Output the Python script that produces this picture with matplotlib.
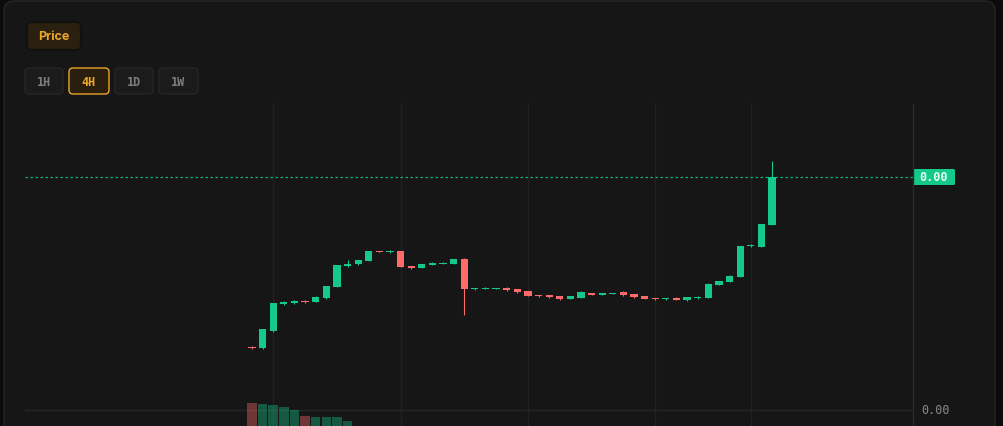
import numpy as np
import matplotlib
matplotlib.use('Agg')
import matplotlib.pyplot as plt
from matplotlib.patches import FancyBboxPatch

# 4H candles, price in units of 1e-9
opens = [83, 82, 99, 126, 127, 129, 128, 132, 143, 164,
         166, 169, 179, 178, 179, 164, 162, 165, 166, 166,
         171, 141, 141, 141, 142, 141, 139, 135, 135, 134,
         131, 132, 137, 135, 136, 138, 136, 134, 132, 131,
         132, 130, 132, 132, 145, 148, 153, 184, 183, 205]
highs = [84, 101, 127, 129, 130, 130, 134, 144, 165, 170,
         170, 179, 179, 180, 179, 164, 166, 168, 168, 171,
         172, 142, 143, 142, 143, 141, 139, 135, 135, 134,
         134, 139, 137, 137, 137, 139, 136, 134, 132, 132,
         133, 133, 134, 147, 149, 155, 184, 186, 206, 269]
lows = [81, 81, 98, 125, 126, 127, 128, 131, 143, 163,
        165, 169, 178, 177, 163, 161, 162, 165, 166, 166,
        115, 140, 141, 141, 139, 137, 134, 133, 132, 130,
        131, 132, 135, 135, 136, 134, 132, 131, 130, 130,
        130, 129, 131, 132, 145, 148, 153, 183, 183, 205]
closes = [82, 101, 127, 128, 129, 128, 133, 144, 165, 166,
          170, 179, 178, 179, 163, 162, 166, 167, 167, 171,
          141, 142, 142, 142, 140, 138, 134, 134, 133, 131,
          134, 138, 135, 137, 137, 135, 133, 131, 131, 132,
          130, 133, 133, 146, 149, 154, 184, 185, 206, 253]
volumes = [56, 55, 54, 52, 49, 43, 42, 42, 42, 38,
           30, 28, 24, 20, 26, 18, 16, 15, 14, 16,
           28, 12, 10, 9, 11, 12, 14, 10, 9, 11,
           9, 12, 10, 8, 7, 9, 10, 11, 8, 7,
           8, 9, 8, 18, 14, 16, 28, 12, 22, 30]
day_marks = [2, 14, 26, 38, 47]
intervals = ["1H", "4H", "1D", "1W"]
active_interval = "4H"
last_price = closes[-1]
grid_price = 20

GREEN = '#14c98a'
RED = '#ff6b6b'
BG = '#161616'
GRID = '#212121'
ORANGE = '#eda52a'

W, H = 1004, 427
fig = plt.figure(figsize=(W / 100, H / 100), dpi=100, facecolor='#0b0b0b')

# --- background / UI layer (pixel coords) ---
ui = fig.add_axes([0, 0, 1, 1], zorder=0)
ui.set_xlim(0, W)
ui.set_ylim(H, 0)
ui.axis('off')
ui.add_patch(FancyBboxPatch((4, 2), 991, 460, boxstyle="round,pad=0,rounding_size=10",
                            fc=BG, ec='#262626', lw=1))

ui.add_patch(FancyBboxPatch((27, 23), 54, 28, boxstyle="round,pad=0,rounding_size=5",
                            fc='#2a2010', ec='#111111', lw=1.5))
ui.text(54, 37.5, "Price", color=ORANGE, fontsize=9, fontweight='bold',
        family='Inter', ha='center', va='center')

bx = [25, 69, 115, 159]
bw = [38, 40, 38, 39]
for x0, w, lab in zip(bx, bw, intervals):
    on = lab == active_interval
    ui.add_patch(FancyBboxPatch((x0, 69), w, 26, boxstyle="round,pad=0,rounding_size=4",
                                fc='#2a1f0e' if on else '#1b1b1b',
                                ec=ORANGE if on else '#262626', lw=1))
    ui.text(x0 + w / 2, 82.5, lab, color=ORANGE if on else '#7e7e7e', fontsize=8.5,
            family='DejaVu Sans Mono', fontweight='bold',
            ha='center', va='center')

# --- price chart ---
x_left, x_right, y_top = 25, 913, 104
c0, step = 252, 10.612
ax = fig.add_axes([x_left / W, 0, (x_right - x_left) / W, (H - y_top) / H], zorder=1)
ax.set_facecolor('none')
ax.set_xlim((x_left - c0) / step, (x_right - c0) / step)
ax.set_ylim(431 - H, 431 - y_top)
ax.axis('off')

for d in day_marks:
    ax.axvline(d, color=GRID, lw=1, zorder=0)
ax.axhline(grid_price, color='#262626', lw=1, zorder=0)

idx = np.arange(len(opens))
o = np.array(opens)
c = np.array(closes)
cols = [GREEN if cc >= oo else RED for oo, cc in zip(o, c)]
ax.vlines(idx, lows, highs, colors=cols, lw=0.8, zorder=2)
body = np.maximum(np.abs(c - o), 1.2)
ax.bar(idx, body, bottom=np.minimum(o, c), width=0.68, color=cols, zorder=3)

ax.axhline(last_price, color=GREEN, lw=0.9, ls=(0, (2, 2)), alpha=0.85, zorder=1)

# --- volume overlay (baseline below visible area) ---
vax = fig.add_axes([x_left / W, -33 / H, (x_right - x_left) / W, (H + 33 - y_top) / H], zorder=1)
vax.set_facecolor('none')
vax.set_xlim(ax.get_xlim())
vax.set_ylim(0, H + 33 - y_top)
vax.axis('off')
vax.bar(idx, volumes, width=0.9, color=cols, alpha=0.38, zorder=1)

# --- price scale ---
top = fig.add_axes([0, 0, 1, 1], zorder=5)
top.set_facecolor('none')
top.set_xlim(0, W)
top.set_ylim(H, 0)
top.axis('off')
top.plot([913, 913], [105, H], color='#2a2a2a', lw=1)
ly = 431 - last_price
top.add_patch(FancyBboxPatch((913, ly - 8), 42, 16, boxstyle="round,pad=0,rounding_size=1.5",
                             fc=GREEN, ec='none'))
top.text(934, ly, f"{last_price * 1e-9:.2f}", color='#e6fff4', fontsize=8.5, fontweight='bold',
         family='DejaVu Sans Mono', ha='center', va='center')
top.text(936, 431 - grid_price, f"{grid_price * 1e-9:.2f}", color='#8a8a8a', fontsize=8.5,
         family='DejaVu Sans Mono', ha='center', va='center')

fig.savefig("out.png", dpi=100, facecolor=fig.get_facecolor())
